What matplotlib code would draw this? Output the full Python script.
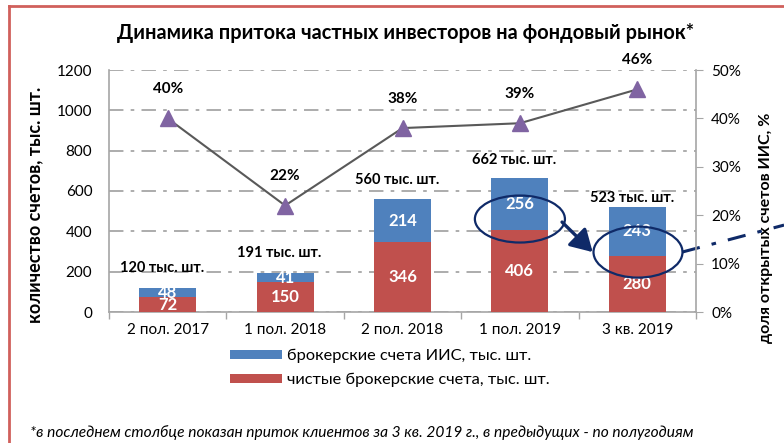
import matplotlib
matplotlib.use("Agg")
import matplotlib.pyplot as plt
from matplotlib.patches import Ellipse, Patch
from matplotlib.lines import Line2D
import numpy as np

plt.rcParams['font.family'] = ['Lato', 'DejaVu Sans']

categories = ["2 пол. 2017", "1 пол. 2018", "2 пол. 2018", "1 пол. 2019", "3 кв. 2019"]
net_accounts = [72, 150, 346, 406, 280]
iis_accounts = [48, 41, 214, 256, 243]
totals = [120, 191, 560, 662, 523]
iis_share = [40, 22, 38, 39, 46]
left_ticks = [0, 200, 400, 600, 800, 1000, 1200]
right_ticks = [0, 10, 20, 30, 40, 50]

title = "Динамика притока частных инвесторов на фондовый рынок*"
ylabel_left = "количество счетов, тыс. шт."
ylabel_right = "доля открытых счетов ИИС, %"
legend_labels = ["брокерские счета ИИС, тыс. шт.", "чистые брокерские счета, тыс. шт."]
footnote = "*в последнем столбце показан приток клиентов за 3 кв. 2019 г., в предыдущих - по полугодиям"

BLUE = "#4F81BD"
RED = "#C0504D"
NAVY = "#0F2A68"
PURPLE = "#8064A2"
GRID = "#A6A6A6"

W, H = 784, 443
fig = plt.figure(figsize=(W / 100, H / 100), dpi=100)
ax = fig.add_axes([109 / W, (H - 312) / H, 587 / W, 242 / H])
ax2 = ax.twinx()

x = np.arange(len(categories))
bw = 0.485
ax.bar(x, net_accounts, bw, color=RED, zorder=3)
ax.bar(x, iis_accounts, bw, bottom=net_accounts, color=BLUE, zorder=3)

ax.set_xlim(-0.5, len(categories) - 0.5)
ax.set_ylim(0, 1200)
ax.set_yticks(left_ticks)
ax.set_yticklabels([str(t) for t in left_ticks])
ax.yaxis.grid(True, color=GRID, linestyle=(0, (8, 4, 2, 4)), linewidth=1.3, zorder=0)
ax.set_axisbelow(True)
ax.set_xticks(x)
ax.set_xticklabels(categories)
ax.set_xticks(np.arange(-0.5, len(categories)), minor=True)
ax.tick_params(axis='x', which='major', length=0, labelsize=11, pad=8, colors='#000000')
ax.tick_params(axis='x', which='minor', length=5, color='#A6A6A6', width=1)
ax.tick_params(axis='y', length=0, labelsize=11, pad=12)
for s in ['top', 'right']:
    ax.spines[s].set_visible(False)
for s in ['left', 'bottom']:
    ax.spines[s].set_color('#A6A6A6')
    ax.spines[s].set_linewidth(1.2)

# segment labels
for i in range(len(categories)):
    ax.text(x[i], net_accounts[i] / 2, str(net_accounts[i]), ha='center', va='center',
            color='white', fontsize=12, fontweight='bold', zorder=5)
    ax.text(x[i], net_accounts[i] + iis_accounts[i] / 2, str(iis_accounts[i]), ha='center',
            va='center', color='white', fontsize=12, fontweight='bold', zorder=5)
total_offsets = [14, 14.5, 14, 13, 6.5]
for i, t in enumerate(totals):
    ax.annotate(f"{t} тыс. шт.", (x[i], t), xytext=(-4, total_offsets[i]),
                textcoords='offset points', ha='center', va='center',
                fontsize=10.5, fontweight='bold', zorder=5)

# share line
ax2.set_ylim(0, 50)
ax2.set_yticks(right_ticks)
ax2.set_yticklabels([f"{t}%" for t in right_ticks])
ax2.plot(x, iis_share, color='#595959', linewidth=1.5, marker='^', markersize=12,
         markerfacecolor=PURPLE, markeredgecolor=PURPLE, zorder=4)
for i, v in enumerate(iis_share):
    ax2.annotate(f"{v}%", (x[i], v), xytext=(0, 16), textcoords='offset points',
                 ha='center', va='bottom', fontsize=11, fontweight='bold')
for s in ['top', 'left', 'bottom']:
    ax2.spines[s].set_visible(False)
ax2.spines['right'].set_color('#A6A6A6')
ax2.spines['right'].set_linewidth(1.2)
ax2.tick_params(axis='y', length=5, color='#A6A6A6', labelsize=11, pad=6)

# annotations: ellipses and arrow
ax.add_patch(Ellipse((3.0, 461), 0.767, 233, fill=False, edgecolor=NAVY, linewidth=1.6, zorder=6))
ax.add_patch(Ellipse((4.006, 297), 0.758, 253, fill=False, edgecolor=NAVY, linewidth=1.6, zorder=6))
ax.annotate("", xy=(3.62, 297), xytext=(3.359, 446),
            arrowprops=dict(arrowstyle='-|>,head_length=0.6,head_width=0.35', color=NAVY,
                            lw=2.4, mutation_scale=22, shrinkA=0, shrinkB=0), zorder=6)
ax.plot([4.381, 5.25], [297, 431], color=NAVY, linewidth=2.2,
        linestyle=(0, (6, 4, 1.5, 4)), clip_on=False, zorder=6)

# labels
fig.text(406 / W, 1 - 33 / H, title, ha='center', va='center', fontsize=14.4, fontweight='bold')
fig.text(35 / W, 1 - 205 / H, ylabel_left, rotation=90, ha='center', va='center',
         fontsize=13, fontweight='bold')
fig.text(766 / W, 1 - 228 / H, ylabel_right, rotation=90, ha='center', va='center',
         fontsize=11.5, fontweight='bold')

handles = [Patch(facecolor=BLUE), Patch(facecolor=RED)]
fig.legend(handles, legend_labels, loc='center left', bbox_to_anchor=(230 / W, 1 - 368 / H),
           frameon=False, fontsize=11.8, handlelength=3.2, handleheight=0.48,
           handletextpad=0.25, labelspacing=0.62, borderpad=0, borderaxespad=0)

fig.text(30 / W, 1 - 433 / H, footnote, ha='left', va='center', fontsize=11.2, style='italic')

# red frame
fig.add_artist(Line2D([9 / W, 9 / W], [0, 1 - 6 / H], color='#D0605C', linewidth=2))
fig.add_artist(Line2D([9 / W, 1], [1 - 6 / H, 1 - 6 / H], color='#D0605C', linewidth=2))

fig.savefig("out.png", dpi=100)
